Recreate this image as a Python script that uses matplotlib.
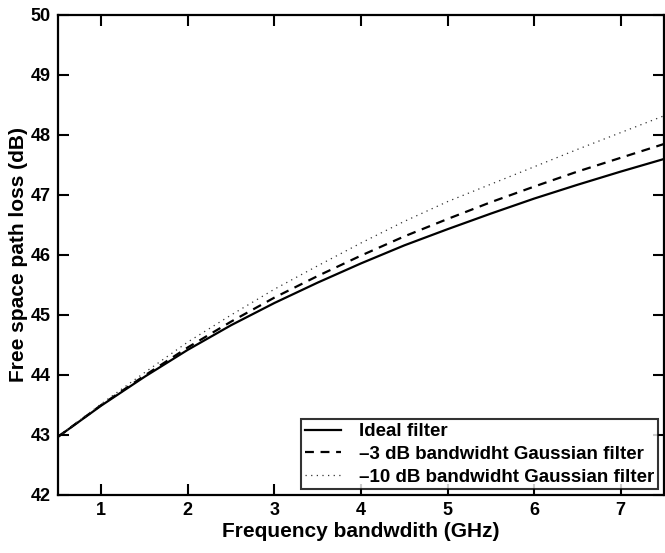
import matplotlib
matplotlib.use('Agg')
import matplotlib.pyplot as plt

plt.rcParams['font.family'] = ['Liberation Sans', 'DejaVu Sans']
plt.rcParams['font.weight'] = 'bold'

# data
bandwidth = [0.5, 1.0, 1.5, 2.0, 2.5, 3.0, 3.5, 4.0, 4.5, 5.0, 5.5, 6.0, 6.5, 7.0, 7.5]
ideal = [42.97, 43.49, 43.97, 44.42, 44.83, 45.20, 45.54, 45.86, 46.16, 46.43,
         46.69, 46.94, 47.17, 47.39, 47.60]
gauss_3db = [42.97, 43.50, 43.99, 44.46, 44.89, 45.29, 45.65, 45.99, 46.31, 46.60,
             46.88, 47.14, 47.39, 47.62, 47.85]
gauss_10db = [42.97, 43.52, 44.04, 44.55, 45.00, 45.43, 45.82, 46.20, 46.56, 46.89,
              47.18, 47.47, 47.76, 48.04, 48.32]
labels = ["Ideal filter",
          "\u20133 dB bandwidht Gaussian filter",
          "\u201310 dB bandwidht Gaussian filter"]

fig = plt.figure(figsize=(6.65, 5.53), dpi=100)
ax = fig.add_axes([0.0872, 0.1049, 0.9113, 0.868])

ax.plot(bandwidth, ideal, color='black', linewidth=1.6, label=labels[0])
ax.plot(bandwidth, gauss_3db, color='black', linewidth=1.6,
        dashes=(4, 3), label=labels[1])
ax.plot(bandwidth, gauss_10db, color='#333333', linewidth=0.9,
        dashes=(1, 3.5), label=labels[2])

ax.set_xlim(0.5, 7.5)
ax.set_ylim(42, 50)
ax.set_xticks(range(1, 8))
ax.set_yticks(range(42, 51))

ax.tick_params(direction='in', length=8, width=1.5, labelsize=13,
               top=True, right=True, pad=5)
for lab in ax.get_xticklabels() + ax.get_yticklabels():
    lab.set_fontweight('bold')
for sp in ax.spines.values():
    sp.set_linewidth(1.6)

ax.set_xlabel("Frequency bandwdith (GHz)", fontsize=15, fontweight='bold', labelpad=2)
ax.set_ylabel("Free space path loss (dB)", fontsize=15, fontweight='bold', labelpad=2)

leg = ax.legend(loc='lower right', fontsize=13.5, frameon=True, fancybox=False,
                edgecolor='black', handlelength=1.9, borderaxespad=0.3,
                borderpad=0.2, labelspacing=0.3, handletextpad=1.0)
leg.get_frame().set_linewidth(1.5)
for t in leg.get_texts():
    t.set_fontweight('bold')

fig.savefig('out.png', dpi=100)
